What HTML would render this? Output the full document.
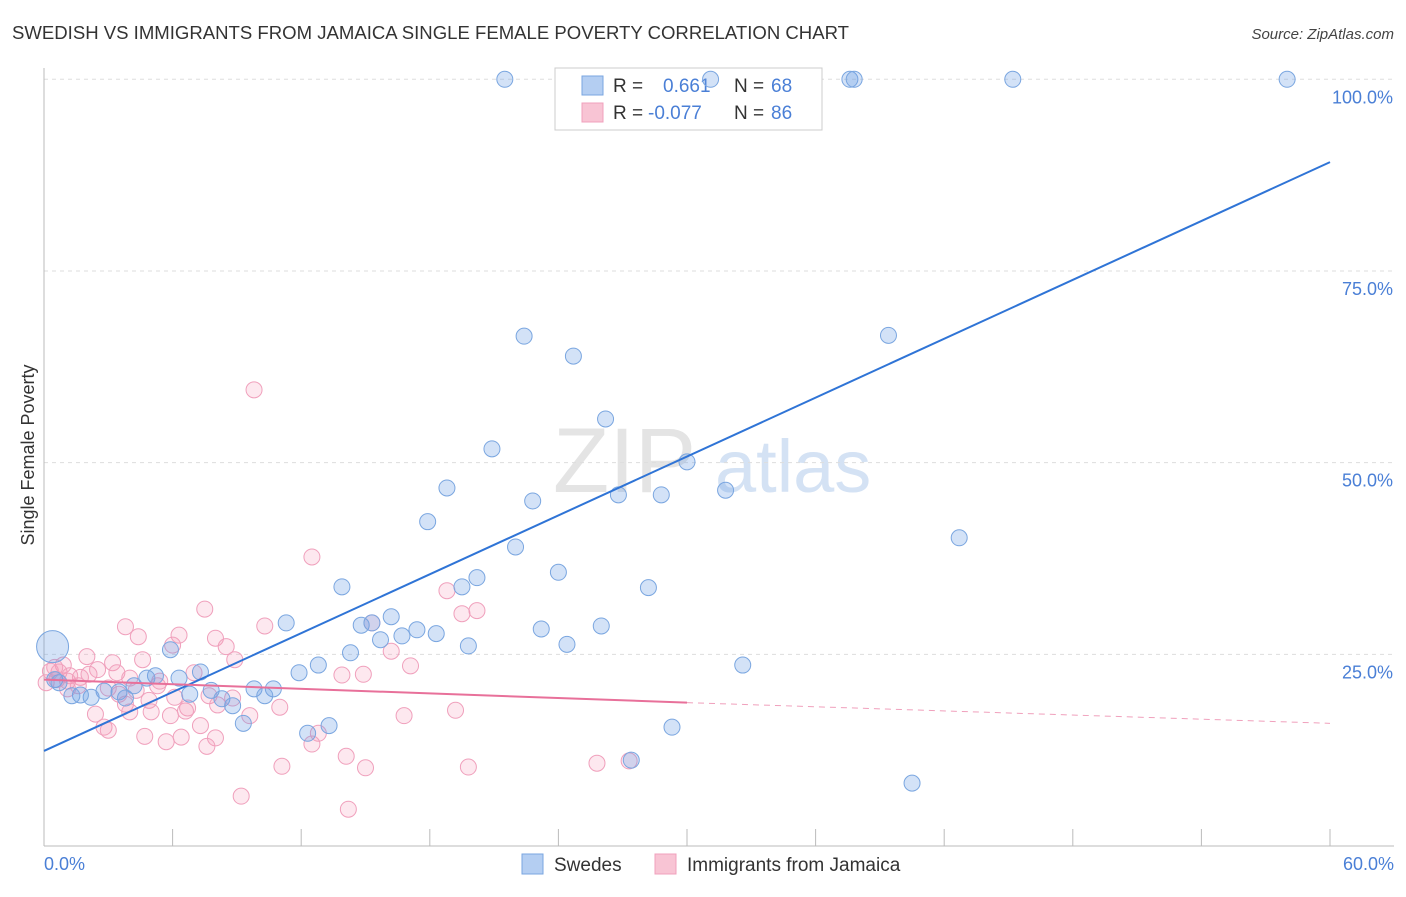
<!DOCTYPE html>
<html><head><meta charset="utf-8"><style>
body{margin:0;background:#fff;font-family:"Liberation Sans",sans-serif;}
svg text{font-family:"Liberation Sans",sans-serif;}
</style></head><body>
<svg id="chart" width="1406" height="892" xmlns="http://www.w3.org/2000/svg">
<text x="12" y="39" font-size="18" fill="#333" textLength="837" lengthAdjust="spacingAndGlyphs">SWEDISH VS IMMIGRANTS FROM JAMAICA SINGLE FEMALE POVERTY CORRELATION CHART</text>
<text x="1394" y="39" font-size="15" fill="#444" font-style="italic" text-anchor="end">Source: ZipAtlas.com</text>
<g>
<text x="553" y="492" font-size="92" fill="#e4e4e4" font-family="Liberation Serif,serif">ZIP</text>
<text x="715" y="492" font-size="74" fill="#d4e2f4">atlas</text>
</g>
<g id="grid"></g>
<g id="axes"></g>
<g>
<rect x="555" y="68" width="267" height="62" fill="#fff" stroke="#ccc"/>
<rect x="582" y="76" width="21" height="19" fill="#b4cef2" stroke="#7aa6e0"/>
<rect x="582" y="103" width="21" height="19" fill="#f8c4d4" stroke="#f0a0bc"/>
<text x="613" y="92" font-size="19" fill="#333">R =</text><text x="663" y="92" font-size="19" fill="#4a7fd6">0.661</text>
<text x="734" y="92" font-size="19" fill="#333">N =</text><text x="771" y="92" font-size="19" fill="#4a7fd6">68</text>
<text x="613" y="119" font-size="19" fill="#333">R =</text><text x="648" y="119" font-size="19" fill="#4a7fd6">-0.077</text>
<text x="734" y="119" font-size="19" fill="#333">N =</text><text x="771" y="119" font-size="19" fill="#4a7fd6">86</text>
</g>
<g id="pts"></g>
<g id="lines"></g>
<text transform="translate(34,455) rotate(-90)" font-size="18" fill="#333" text-anchor="middle">Single Female Poverty</text>
<text x="44" y="870" font-size="18" fill="#4a7fd6">0.0%</text>
<text x="1394" y="870" font-size="18" fill="#4a7fd6" text-anchor="end">60.0%</text>
<g>
<rect x="522" y="854" width="21" height="20" fill="#b4cef2" stroke="#7aa6e0"/>
<text x="554" y="871" font-size="19" fill="#333">Swedes</text>
<rect x="655" y="854" width="21" height="20" fill="#f8c4d4" stroke="#f0a0bc"/>
<text x="687" y="871" font-size="19" fill="#333">Immigrants from Jamaica</text>
</g>
</svg>
<script>
const yTicks=[25,50,75,100];
const yTickLabels=["25.0%","50.0%","75.0%","100.0%"];
const xTicks=[0,6,12,18,24,30,36,42,48,54,60];
const blueX=[21.5,31.1,37.6,37.8,45.2,58.0,22.4,24.7,39.4,26.2,20.9,30.0,18.8,22.8,26.8,28.8,31.8,17.9,42.7,22.0,24.0,19.5,20.2,13.9,28.2,16.2,14.8,15.3,11.3,16.7,17.4,18.3,23.2,26.0,15.7,19.8,24.4,14.3,12.8,11.9,32.6,5.9,7.3,6.3,5.2,4.8,4.2,7.8,9.8,10.7,6.8,8.3,8.8,10.3,2.8,3.5,2.2,1.7,3.8,1.3,9.3,12.3,13.3,29.3,27.4,40.5,0.4,0.5,0.7];
const blueY=[100,100,100,100,100,100,66.5,63.9,66.6,55.7,51.8,50.1,46.7,45.0,45.8,45.8,46.4,42.3,40.2,39.0,35.7,33.8,35.0,33.8,33.7,29.9,28.8,29.1,29.1,27.4,28.2,27.7,28.3,28.7,26.9,26.1,26.3,25.2,23.6,22.6,23.6,25.6,22.7,21.9,22.2,21.9,20.9,20.3,20.5,20.5,19.8,19.2,18.3,19.6,20.2,20.1,19.4,19.7,19.3,19.6,16.0,14.7,15.7,15.5,11.2,8.2,26.0,21.7,21.3];
const pinkX=[9.8,12.5,18.8,20.2,19.5,7.5,3.8,6.3,4.4,8.0,10.3,6.0,8.5,15.3,16.2,17.1,4.6,8.9,2.0,3.2,2.5,0.9,0.5,0.7,1.2,1.7,2.1,3.4,4.0,5.4,7.0,13.9,14.9,0.6,0.1,1.1,1.6,3.0,4.3,5.3,3.5,4.9,6.1,7.7,8.8,3.8,6.7,8.1,11.0,9.6,2.4,4.0,5.0,5.9,6.6,16.8,19.2,7.3,2.8,3.0,4.7,5.7,6.4,8.0,7.6,12.8,12.5,14.1,11.1,15.0,19.8,25.8,27.3,9.2,14.2,0.3,1.1];
const pinkY=[59.5,37.7,33.3,30.7,30.3,30.9,28.6,27.5,27.3,27.1,28.7,26.2,26.0,29.1,25.4,23.5,24.3,24.3,24.7,23.9,23.0,23.6,23.3,22.7,22.2,22.0,22.4,22.6,21.9,21.5,22.6,22.3,22.4,21.7,21.3,21.5,20.9,20.6,20.3,20.9,19.8,19.0,19.4,19.6,19.3,18.5,18.0,18.4,18.1,17.0,17.2,17.5,17.5,17.0,17.6,17.0,17.7,15.7,15.5,15.1,14.3,13.6,14.2,14.1,13.0,14.7,13.3,11.7,10.4,10.2,10.3,10.8,11.1,6.5,4.8,22.8,20.5];
const blueTrend=[12.4,89.2];
const pinkTrend=[21.7,18.7,16.0];
const NS="http://www.w3.org/2000/svg";
const sx=v=>44+v/60*1286, sy=v=>846-v*7.667;
function mk(tag,attrs,parent){const e=document.createElementNS(NS,tag);for(const k in attrs)e.setAttribute(k,attrs[k]);parent.appendChild(e);return e;}
const grid=document.getElementById('grid'),axes=document.getElementById('axes'),pts=document.getElementById('pts'),lines=document.getElementById('lines');
yTicks.forEach((t,i)=>{
 const l=mk('line',{x1:44,x2:1394,y1:sy(t),y2:sy(t),stroke:'#ddd','stroke-dasharray':'4,4'},grid);
 
 
 const tx=mk('text',{x:1393,y:sy(t)+24,'font-size':18,fill:'#4a7fd6','text-anchor':'end'},grid);
 tx.textContent=yTickLabels[i];
 
 
});
let a=mk('line',{x1:44,x2:44,y1:68,y2:846,stroke:'#bbb'},axes);


a=mk('line',{x1:44,x2:1394,y1:846,y2:846,stroke:'#bbb'},axes);


xTicks.forEach(t=>{
 const l=mk('line',{x1:sx(t),x2:sx(t),y1:829,y2:846,stroke:'#bbb'},axes);
 
 
});
pinkX.forEach((x,i)=>{
 const c=mk('circle',{cx:sx(x),cy:sy(pinkY[i]),r:8,fill:'rgba(244,150,180,0.22)',stroke:'#f0a0bc','stroke-width':1},pts);
 
 
});
blueX.forEach((x,i)=>{
 const big=(i===66);
 const c=mk('circle',{cx:sx(x),cy:sy(blueY[i]),r:big?16:8,fill:'rgba(110,160,230,0.3)',stroke:'#7aa6e0','stroke-width':1},pts);
 
 
});
let l=mk('line',{x1:sx(0),y1:sy(blueTrend[0]),x2:sx(60),y2:sy(blueTrend[1]),stroke:'#2f74d6','stroke-width':2},lines);


l=mk('line',{x1:sx(0),y1:sy(pinkTrend[0]),x2:sx(30),y2:sy(pinkTrend[1]),stroke:'#e8709a','stroke-width':2},lines);


l=mk('line',{x1:sx(30),y1:sy(pinkTrend[1]),x2:sx(60),y2:sy(pinkTrend[2]),stroke:'#f0a0bc','stroke-width':1,'stroke-dasharray':'6,5'},lines);


</script>
</body></html>
